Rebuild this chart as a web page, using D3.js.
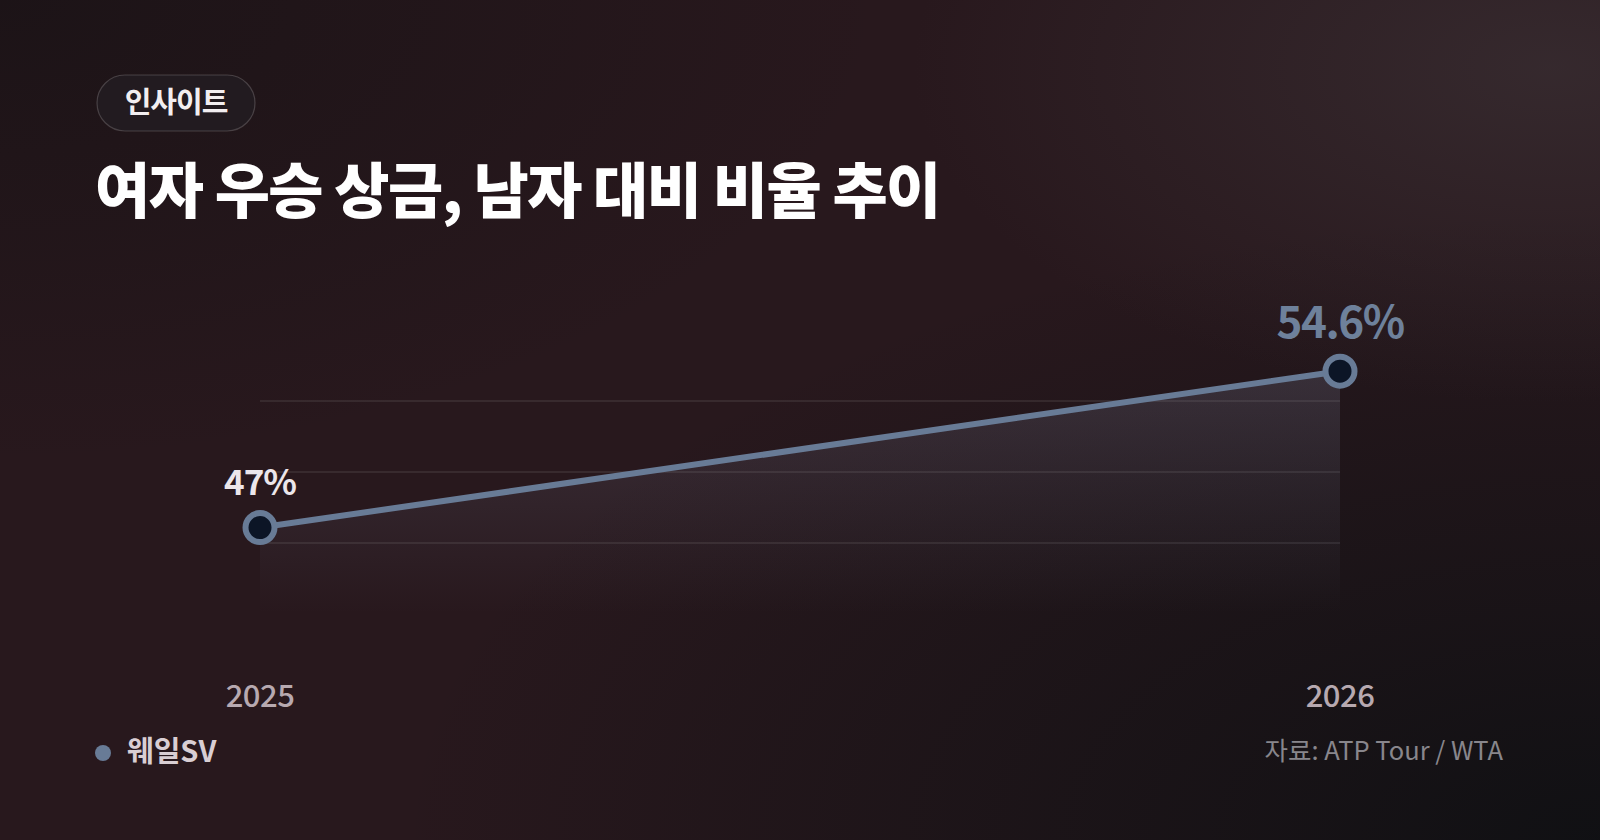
<!DOCTYPE html>
<html>
<head>
<meta charset="utf-8">
<script src="https://cdn.jsdelivr.net/npm/d3@7"></script>
<style>
  html, body { margin: 0; padding: 0; background: #1f1619; }
  svg { display: block; font-family: "Noto Sans CJK KR", "Noto Sans", sans-serif; }
</style>
</head>
<body>
<div id="chart"></div>
<script>
// data
const years = ["2025", "2026"];
const ratio = [47, 54.6];
const valueLabels = ["47%", "54.6%"];
const seriesName = "웨일SV";
const badgeText = "인사이트";
const titleText = "여자 우승 상금, 남자 대비 비율 추이";
const sourceText = "자료: ATP Tour / WTA";
const yDomain = [42.8, 56.6];

const width = 1600, height = 840;
const lineColor = "#687b96";

const svg = d3.select("#chart").append("svg")
  .attr("width", width)
  .attr("height", height);

const defs = svg.append("defs");

function radial(id, cx, cy, r, color, op) {
  const g = defs.append("radialGradient").attr("id", id)
    .attr("cx", cx).attr("cy", cy).attr("r", r);
  g.append("stop").attr("offset", "0%").attr("stop-color", color).attr("stop-opacity", op);
  g.append("stop").attr("offset", "100%").attr("stop-color", color).attr("stop-opacity", 0);
}

// background
radial("darkTL", 0, 0, 0.55, "#181215", 0.75);
radial("darkBR", 1, 1, 0.75, "#0f1013", 0.95);
radial("grayTR", 0.97, 0.08, 0.4, "#433a3e", 0.5);

const area = defs.append("linearGradient").attr("id", "areaFill")
  .attr("x1", 0).attr("y1", 0).attr("x2", 0).attr("y2", 1);
area.append("stop").attr("offset", "0%").attr("stop-color", "#8d93b0").attr("stop-opacity", 0.2);
area.append("stop").attr("offset", "100%").attr("stop-color", "#8d93b0").attr("stop-opacity", 0);

svg.append("rect").attr("width", width).attr("height", height).attr("fill", "#28181d");
["darkTL", "darkBR", "grayTR"].forEach(id => {
  svg.append("rect").attr("width", width).attr("height", height).attr("fill", `url(#${id})`);
});

// badge
const badge = svg.append("g").attr("transform", "translate(97,75)");
badge.append("rect")
  .attr("width", 158).attr("height", 56).attr("rx", 28)
  .attr("fill", "#221b20")
  .attr("stroke", "rgba(255,255,255,0.18)")
  .attr("stroke-width", 1.2);
badge.append("text")
  .attr("x", 79).attr("y", 38)
  .attr("text-anchor", "middle")
  .attr("fill", "#f2eef0")
  .attr("font-size", 29).attr("font-weight", 700)
  .attr("letter-spacing", -1)
  .text(badgeText);

// title
svg.append("text")
  .attr("x", 95).attr("y", 213)
  .attr("fill", "#ffffff")
  .attr("font-size", 60).attr("font-weight", 800)
  .attr("letter-spacing", -1.5)
  .text(titleText);

// scales
const x = d3.scalePoint().domain(years).range([260, 1340]);
const y = d3.scaleLinear().domain(yDomain).range([614, 330]);

const data = years.map((yr, i) => ({ year: yr, value: ratio[i], label: valueLabels[i] }));

// grid lines at quarters of the value range
const gridVals = [0.25, 0.5, 0.75].map(f => yDomain[0] + f * (yDomain[1] - yDomain[0]));
svg.append("g").selectAll("line")
  .data(gridVals)
  .enter().append("line")
  .attr("x1", x(years[0])).attr("x2", x(years[years.length - 1]))
  .attr("y1", d => y(d)).attr("y2", d => y(d))
  .attr("stroke", "rgba(255,255,255,0.08)")
  .attr("stroke-width", 2);

// area
svg.append("path")
  .datum(data)
  .attr("fill", "url(#areaFill)")
  .attr("d", d3.area().x(d => x(d.year)).y0(y(yDomain[0])).y1(d => y(d.value)));

// line
svg.append("path")
  .datum(data)
  .attr("fill", "none")
  .attr("stroke", lineColor)
  .attr("stroke-width", 6)
  .attr("stroke-linecap", "round")
  .attr("d", d3.line().x(d => x(d.year)).y(d => y(d.value)));

// points
svg.append("g").selectAll("circle")
  .data(data)
  .enter().append("circle")
  .attr("cx", d => x(d.year))
  .attr("cy", d => y(d.value))
  .attr("r", 14.5)
  .attr("fill", "#0c1526")
  .attr("stroke", lineColor)
  .attr("stroke-width", 6);

// value labels (last one highlighted)
svg.append("g").selectAll("text")
  .data(data)
  .enter().append("text")
  .attr("x", d => x(d.year))
  .attr("y", d => y(d.value) - 33)
  .attr("text-anchor", "middle")
  .attr("font-weight", 700)
  .attr("font-size", (d, i) => i === data.length - 1 ? 44 : 35)
  .attr("letter-spacing", (d, i) => i === data.length - 1 ? -1.5 : -1)
  .attr("fill", (d, i) => i === data.length - 1 ? "#6e819b" : "#ece6ea")
  .text(d => d.label);

// x axis labels
svg.append("g").selectAll("text")
  .data(years)
  .enter().append("text")
  .attr("x", d => x(d))
  .attr("y", 707)
  .attr("text-anchor", "middle")
  .attr("font-size", 31).attr("font-weight", 500)
  .attr("letter-spacing", -0.5)
  .attr("fill", "#b7a9b0")
  .text(d => d);

// legend
svg.append("circle")
  .attr("cx", 103).attr("cy", 753).attr("r", 8)
  .attr("fill", lineColor);
svg.append("text")
  .attr("x", 127).attr("y", 762)
  .attr("font-size", 29).attr("font-weight", 700)
  .attr("fill", "#d9ced3")
  .text(seriesName);

// source
svg.append("text")
  .attr("x", 1503).attr("y", 760)
  .attr("text-anchor", "end")
  .attr("font-size", 25.5)
  .attr("fill", "#88868c")
  .text(sourceText);
</script>
</body>
</html>
